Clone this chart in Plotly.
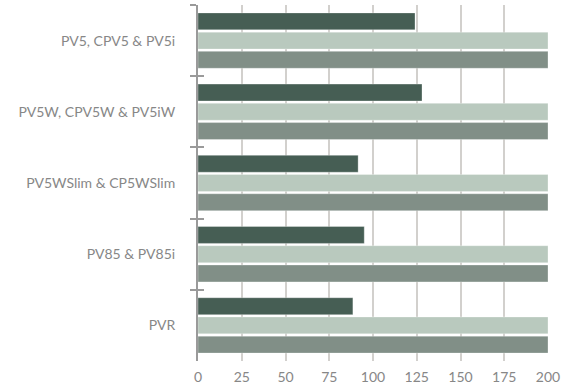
import plotly.graph_objects as go

# Product groups, listed top to bottom
categories = [
    "PV5, CPV5 & PV5i",
    "PV5W, CPV5W & PV5iW",
    "PV5WSlim & CP5WSlim",
    "PV85 & PV85i",
    "PVR",
]

# Series values per product group
series_dark = [124, 128, 91.5, 95, 88.5]
series_light = [200, 200, 200, 200, 200]
series_mid = [200, 200, 200, 200, 200]

x_ticks = [0, 25, 50, 75, 100, 125, 150, 175, 200]

colors = ["#465e54", "#b9c9be", "#818f87"]
names = ["Series 1", "Series 2", "Series 3"]
axis_gray = "#9a9a9a"

fig = go.Figure()
for vals, col, name in zip([series_dark, series_light, series_mid], colors, names):
    fig.add_trace(go.Bar(
        y=categories,
        x=vals,
        orientation="h",
        name=name,
        marker=dict(color=col, line=dict(color="rgba(255,255,255,0.3)", width=1)),
        hoverinfo="x+y",
    ))

# Empty trace on an overlaying axis, so its inward ticks combine
# with the outward ones into ticks that cross the axis line
fig.add_trace(go.Scatter(
    y=categories,
    x=series_dark,
    yaxis="y2",
    mode="none",
    hoverinfo="skip",
    showlegend=False,
))

label_font = dict(family="Lato, 'Open Sans', sans-serif", size=14, color="#878787")

fig.update_layout(
    width=574,
    height=390,
    margin=dict(l=198, r=26, t=5, b=23),
    paper_bgcolor="white",
    plot_bgcolor="white",
    barmode="group",
    bargap=0.19,
    bargroupgap=0.12,
    showlegend=False,
    font=label_font,
    xaxis=dict(
        range=[0, 200],
        tickvals=x_ticks,
        showgrid=True,
        gridcolor="#d2d0cd",
        gridwidth=2,
        zeroline=False,
        showline=False,
        ticks="",
        tickfont=label_font,
        ticklabelstandoff=6,
        fixedrange=True,
    ),
    yaxis=dict(
        type="category",
        categoryorder="array",
        categoryarray=categories,
        autorange="reversed",
        showline=True,
        linecolor=axis_gray,
        linewidth=2,
        ticks="outside",
        tickson="boundaries",
        ticklen=6,
        tickwidth=2,
        tickcolor=axis_gray,
        showgrid=False,
        tickfont=label_font,
        ticklabelstandoff=18,
        fixedrange=True,
    ),
    yaxis2=dict(
        type="category",
        overlaying="y",
        matches="y",
        side="left",
        showline=False,
        ticks="inside",
        tickson="boundaries",
        ticklen=6,
        tickwidth=2,
        tickcolor=axis_gray,
        showticklabels=False,
        showgrid=False,
        fixedrange=True,
    ),
)

fig.write_html("out.html")
